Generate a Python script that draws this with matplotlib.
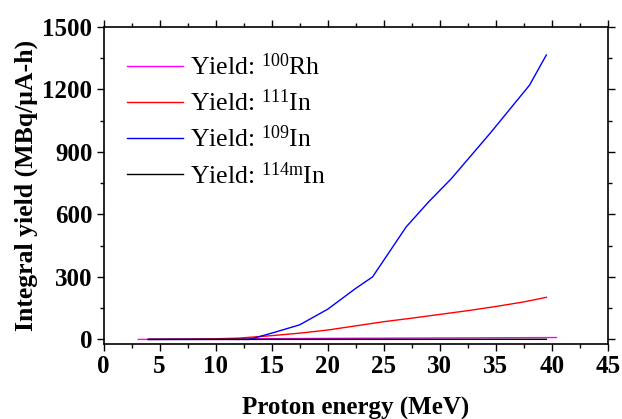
import numpy as np
import matplotlib
matplotlib.use('Agg')
import matplotlib.pyplot as plt
from matplotlib.ticker import MultipleLocator

plt.rcParams['font.family'] = 'serif'
plt.rcParams['font.serif'] = ['Liberation Serif', 'DejaVu Serif']
plt.rcParams['mathtext.fontset'] = 'custom'
plt.rcParams['mathtext.rm'] = 'Liberation Serif'
plt.rcParams['mathtext.it'] = 'Liberation Serif:italic'

# data (energy in MeV, yield in MBq/uA-h)
e_rh = [3.1, 10, 20, 30, 40.4]
y_rh = [0, 2, 5, 7, 9]

e_in111 = [4, 8, 10, 12, 13, 15, 17.5, 20, 22.5, 25, 27.5, 30, 32.5, 35, 37.5, 39.5]
y_in111 = [0, 1, 3, 6, 10, 18, 30, 45, 65, 85, 102, 120, 138, 158, 180, 202]

e_in109 = [4, 13, 15, 17.5, 20, 22.5, 24, 27, 29, 31, 34.5, 38, 39.5]
y_in109 = [0, 0, 30, 70, 145, 245, 300, 540, 660, 770, 990, 1220, 1365]

e_in114m = [4, 39.5]
y_in114m = [0, 0.5]

fig = plt.figure(figsize=(6.22, 4.19), dpi=100)
ax = fig.add_axes([0.1664, 0.180, 0.8111, 0.756])

ax.plot(e_rh, y_rh, color='#ff00ff', lw=1.0, label='Yield: $^{\\mathrm{100}}$Rh')
ax.plot(e_in111, y_in111, color='red', lw=1.0, label='Yield: $^{\\mathrm{111}}$In')
ax.plot(e_in109, y_in109, color='blue', lw=1.0, label='Yield: $^{\\mathrm{109}}$In')
ax.plot(e_in114m, y_in114m, color='black', lw=1.0, label='Yield: $^{\\mathrm{114m}}$In')

ax.set_xlim(0, 45)
ax.set_ylim(-20, 1500)
ax.xaxis.set_major_locator(MultipleLocator(5))
ax.xaxis.set_minor_locator(MultipleLocator(2.5))
ax.yaxis.set_major_locator(MultipleLocator(300))
ax.yaxis.set_minor_locator(MultipleLocator(150))
ax.tick_params(which='both', direction='out', top=True, right=True, width=1)
ax.tick_params(which='major', length=5, pad=3)
ax.tick_params(which='minor', length=3)
for lab in ax.get_xticklabels() + ax.get_yticklabels():
    lab.set_fontweight('bold')
    lab.set_fontsize(18)
for sp in ax.spines.values():
    sp.set_linewidth(1.2)

ax.set_xlabel('Proton energy (MeV)', fontsize=18, fontweight='bold', labelpad=14)
ax.set_ylabel('Integral yield (MBq/\u03bcA-h)', fontsize=18.5, fontweight='bold', labelpad=3)

ax.legend(loc='upper left', bbox_to_anchor=(0.0, 0.99), frameon=False, fontsize=18.5,
          handlelength=2.2, handletextpad=0.25, labelspacing=0.38, borderaxespad=0.5)

fig.savefig('out.png', dpi=100)
